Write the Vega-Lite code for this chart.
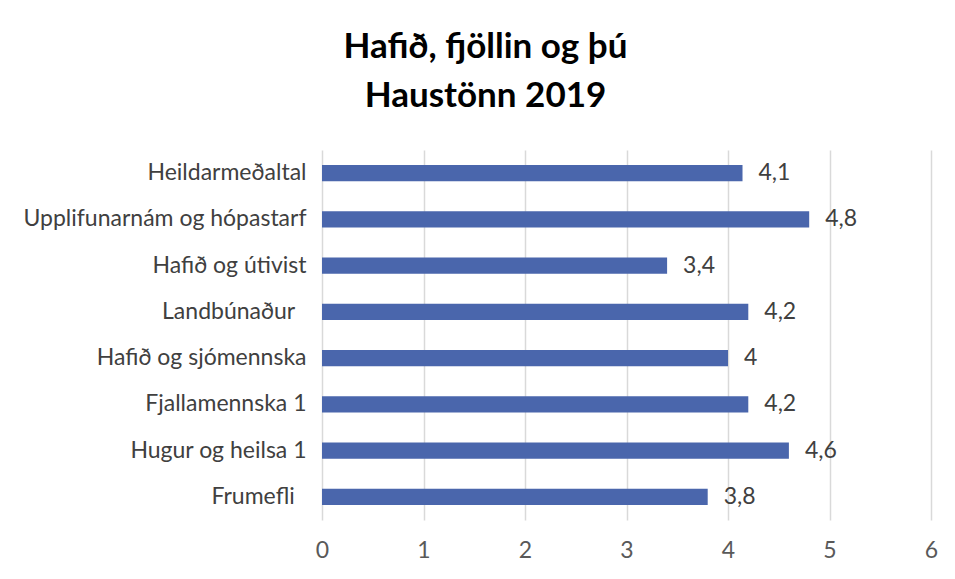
{
  "$schema": "https://vega.github.io/schema/vega-lite/v6.json",
  "width": 609,
  "height": 370,
  "autosize": {"type": "none"},
  "padding": {"left": 322, "top": 150, "right": 24, "bottom": 59},
  "background": "white",
  "config": {
    "font": "Lato",
    "view": {"stroke": null},
    "locale": {"number": {"decimal": ",", "thousands": ".", "grouping": [3], "currency": ["", " kr."]}}
  },
  "title": {
    "text": ["Hafið, fjöllin og þú", "Haustönn 2019"],
    "fontSize": 35,
    "fontWeight": "bold",
    "font": "Lato",
    "color": "#000000",
    "anchor": "middle",
    "frame": "group",
    "dx": -141,
    "lineHeight": 49,
    "offset": 36
  },
  "data": {
    "values": [
      {"flokkur": "Heildarmeðaltal", "gildi": 4.143},
      {"flokkur": "Upplifunarnám og hópastarf", "gildi": 4.8},
      {"flokkur": "Hafið og útivist", "gildi": 3.4},
      {"flokkur": "Landbúnaður\u00a0\u00a0\u200b", "gildi": 4.2},
      {"flokkur": "Hafið og sjómennska", "gildi": 4.0},
      {"flokkur": "Fjallamennska 1", "gildi": 4.2},
      {"flokkur": "Hugur og heilsa 1", "gildi": 4.6},
      {"flokkur": "Frumefli\u00a0\u00a0\u200b", "gildi": 3.8}
    ]
  },
  "encoding": {
    "y": {
      "field": "flokkur",
      "type": "nominal",
      "sort": null,
      "title": null,
      "scale": {"paddingInner": 0.65, "paddingOuter": 0.325},
      "axis": {
        "domain": false,
        "ticks": false,
        "labelFontSize": 23,
        "labelColor": "#404040",
        "labelPadding": 16,
        "labelLimit": 400
      }
    },
    "x": {
      "field": "gildi",
      "type": "quantitative",
      "title": null,
      "scale": {"domain": [0, 6], "nice": false},
      "axis": {
        "values": [0, 1, 2, 3, 4, 5, 6],
        "domain": false,
        "ticks": false,
        "grid": true,
        "gridColor": "#d9d9d9",
        "gridWidth": 1.5,
        "labelFontSize": 23,
        "labelColor": "#595959",
        "labelPadding": 19,
        "labelFlush": false,
        "format": "d"
      }
    }
  },
  "layer": [
    {"mark": {"type": "bar", "color": "#4A66AC"}},
    {
      "mark": {"type": "text", "align": "left", "baseline": "middle", "dx": 16, "fontSize": 23, "color": "#404040"},
      "encoding": {"text": {"field": "gildi", "type": "quantitative", "format": ".2~g"}}
    }
  ]
}
